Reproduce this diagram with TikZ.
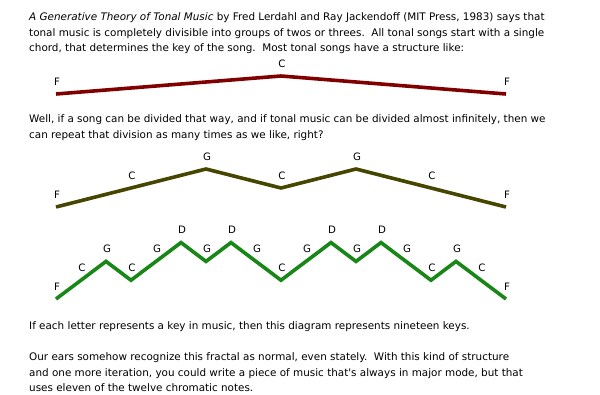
\documentclass[tikz,border=0pt]{standalone}
\usepackage{fontspec}
\setmainfont{DejaVu Sans}
\usetikzlibrary{calc}

\definecolor{tierone}{RGB}{128,0,0}
\definecolor{tiertwo}{RGB}{70,70,0}
\definecolor{tierthree}{RGB}{24,135,24}

\tikzset{
  key/.style={font=\fontsize{10.2}{12}\selectfont, inner sep=0pt},
  para/.style={anchor=base west, align=left, inner sep=0pt, font=\fontsize{10.4}{15.5}\selectfont},
  tier/.style={line width=3.6pt, line join=miter, line cap=butt}
}

\begin{document}
\begin{tikzpicture}[x=1pt,y=-1pt]
  \useasboundingbox (0,0) rectangle (600,394);
  \def\xl{56}
  \def\up{12.5}

  \node[para] (intro) at (29,51.5) {\textit{A Generative Theory of Tonal Music} by Fred Lerdahl and Ray Jackendoff (MIT Press, 1983) says that\\
    tonal music is completely divisible into groups of twos or threes.\ \ All tonal songs start with a single\\
    chord, that determines the key of the song.\ \ Most tonal songs have a structure like:};

  \begin{scope}
    \foreach \k/\lv [count=\i from 0] in {F/0,C/1,F/0}
      {\coordinate (a\i) at (\xl+225*\i,94-18*\lv);
       \node[key] (ka\i) at ($(a\i)+(1,-\up)$) {\k};}
    \draw[tier, draw=tierone] (a0) -- (a1) -- (a2);
  \end{scope}

  \node[para] (again) at (29,138) {Well, if a song can be divided that way, and if tonal music can be divided almost infinitely, then we\\
    can repeat that division as many times as we like, right?};

  \begin{scope}
    \foreach \k/\lv [count=\i from 0] in {F/0,C/1,G/2,C/1,G/2,C/1,F/0}
      {\coordinate (b\i) at (\xl+75*\i,207-19*\lv);
       \node[key] (kb\i) at ($(b\i)+(1,-\up)$) {\k};}
    \draw[tier, draw=tiertwo] (b0) \foreach \i in {1,...,6} {-- (b\i)};
  \end{scope}

  \begin{scope}
    \foreach \k/\lv [count=\i from 0] in {F/0,C/1,G/2,C/1,G/2,D/3,G/2,D/3,G/2,C/1,G/2,D/3,G/2,D/3,G/2,C/1,G/2,C/1,F/0}
      {\coordinate (c\i) at (\xl+25*\i,299-18.8*\lv);
       \node[key] (kc\i) at ($(c\i)+(1,-\up)$) {\k};}
    \draw[tier, draw=tierthree] (c0) \foreach \i in {1,...,18} {-- (c\i)};
  \end{scope}

  \node[para] (count) at (29,329.5) {If each letter represents a key in music, then this diagram represents nineteen keys.};

  \node[para] (ears) at (29,391.5) {Our ears somehow recognize this fractal as normal, even stately.\ \ With this kind of structure\\
    and one more iteration, you could write a piece of music that\textquotesingle s always in major mode, but that\\
    uses eleven of the twelve chromatic notes.};
\end{tikzpicture}
\end{document}
